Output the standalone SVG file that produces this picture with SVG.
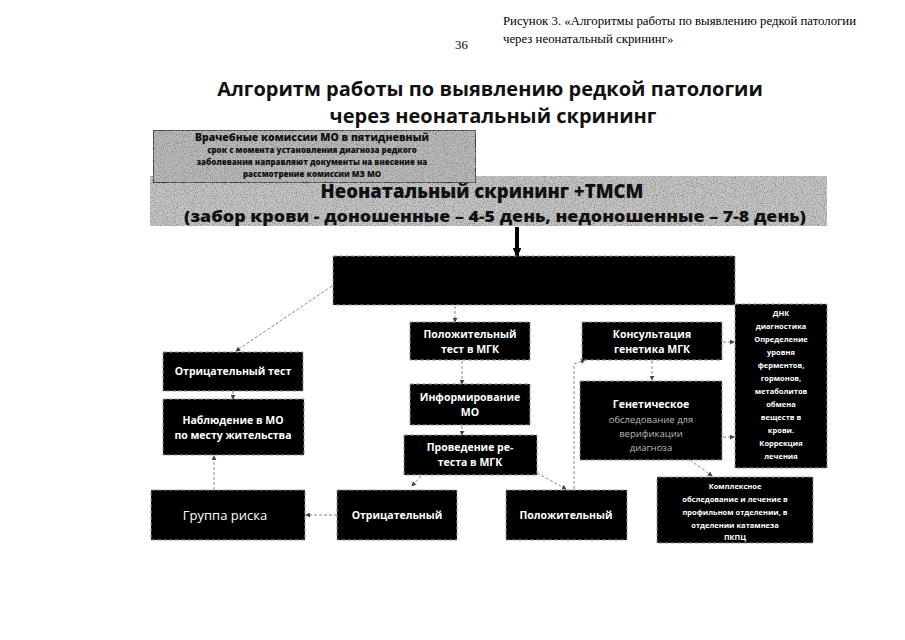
<svg xmlns="http://www.w3.org/2000/svg" width="905" height="640" viewBox="0 0 905 640">
<style>
.cap{font-family:"Liberation Serif",serif;font-size:12.8px;fill:#000}
.title{font-family:"Open Sans","Liberation Sans",sans-serif;font-weight:bold;font-size:20px;fill:#111;text-anchor:middle}
.box{fill:#000;stroke:#999;stroke-width:1;stroke-dasharray:4 2}
.t{font-family:"Open Sans","Liberation Sans",sans-serif;font-weight:bold;font-size:10.5px;fill:#fff;text-anchor:middle}
.tn{font-family:"Open Sans","Liberation Sans",sans-serif;font-weight:normal;font-size:13px;fill:#fff;text-anchor:middle}
.ts{font-family:"Open Sans","Liberation Sans",sans-serif;font-weight:bold;font-size:7.5px;fill:#fff;text-anchor:middle}
.tl{font-family:"Open Sans","Liberation Sans",sans-serif;font-size:9.5px;fill:#bbb;text-anchor:middle}
.gt{font-family:"Open Sans","Liberation Sans",sans-serif;font-weight:800;fill:#111;text-anchor:middle}
.con{fill:none;stroke:#888;stroke-width:1;stroke-dasharray:3 2}
</style>
<defs>
<marker id="ah" viewBox="0 0 6 6" refX="5" refY="3" markerWidth="5" markerHeight="5" orient="auto"><path d="M0,0 L6,3 L0,6 z" fill="#444"/></marker>
<marker id="big" viewBox="0 0 10 10" refX="9" refY="5" markerWidth="2.2" markerHeight="2.2" orient="auto"><path d="M0,0 L10,5 L0,10 z" fill="#000"/></marker>
<filter id="grain" x="0" y="0" width="100%" height="100%">
<feTurbulence type="fractalNoise" baseFrequency="0.9" numOctaves="2" seed="3" result="t"/>
<feColorMatrix in="t" type="matrix" values="0 0 0 0 0.25 0 0 0 0 0.25 0 0 0 0 0.25 2.4 0 0 0 -0.95" result="dots"/>
<feComposite in="dots" in2="SourceGraphic" operator="in" result="d2"/>
<feMerge><feMergeNode in="SourceGraphic"/><feMergeNode in="d2"/></feMerge>
</filter>
</defs>
<rect width="905" height="640" fill="#fff"/>

<g id="caption">
<text class="cap" x="503" y="25">Рисунок 3. «Алгоритмы работы по выявлению редкой патологии</text>
<text class="cap" x="503" y="43">через неонатальный скрининг»</text>
<text class="cap" x="455" y="49">36</text>
</g>

<g id="title">
<text class="title" x="490" y="96">Алгоритм работы по выявлению редкой патологии</text>
<text class="title" x="493" y="123">через неонатальный скрининг</text>
</g>

<g id="screening">
<rect x="150" y="176" width="677" height="50" fill="#c8c8c8" filter="url(#grain)"/>
<text class="gt" x="482" y="198" font-size="18.5">Неонатальный скрининг +ТМСМ</text>
<text class="gt" x="495" y="222" font-size="16.5" textLength="622" lengthAdjust="spacingAndGlyphs">(забор крови - доношенные – 4-5 день, недоношенные – 7-8 день)</text>
</g>

<g id="commission">
<rect x="153" y="130" width="323" height="53" fill="#bcbcbc" stroke="#111" stroke-width="1.5" filter="url(#grain)"/>
<text class="gt" x="312" y="141" font-size="10.5">Врачебные комиссии МО в пятидневный</text>
<text class="gt" x="312" y="153" font-size="8">срок с момента установления диагноза редкого</text>
<text class="gt" x="312" y="165" font-size="8">заболевания направляют документы на внесение на</text>
<text class="gt" x="312" y="177" font-size="8">рассмотрение комиссии МЗ МО</text>
</g>

<g id="connectors">
<line x1="517" y1="227" x2="517" y2="256" stroke="#000" stroke-width="4" marker-end="url(#big)"/>
<line class="con" x1="332" y1="286" x2="236" y2="351" marker-end="url(#ah)"/>
<line class="con" x1="233" y1="391" x2="233" y2="399" marker-end="url(#ah)"/>
<line class="con" x1="214" y1="490" x2="214" y2="456" marker-end="url(#ah)"/>
<line class="con" x1="455" y1="306" x2="455" y2="322" marker-end="url(#ah)"/>
<line class="con" x1="462" y1="361" x2="462" y2="384" marker-end="url(#ah)"/>
<line class="con" x1="462" y1="426" x2="462" y2="435" marker-end="url(#ah)"/>
<line class="con" x1="421" y1="476" x2="412" y2="486" marker-end="url(#ah)"/>
<line class="con" x1="537" y1="473" x2="566" y2="489" marker-end="url(#ah)"/>
<line class="con" x1="337" y1="515" x2="306" y2="515" marker-end="url(#ah)"/>
<line class="con" x1="574" y1="489" x2="574" y2="364"/>
<line class="con" x1="574" y1="364" x2="585" y2="360" marker-end="url(#ah)"/>
<line class="con" x1="652" y1="361" x2="652" y2="380" marker-end="url(#ah)"/>
<line class="con" x1="723" y1="342" x2="734" y2="342" marker-end="url(#ah)"/>
<line class="con" x1="723" y1="437" x2="734" y2="437" marker-end="url(#ah)"/>
<line class="con" x1="690" y1="460" x2="712" y2="476" marker-end="url(#ah)"/>
</g>

<g id="main"><rect class="box" x="333" y="256" width="402" height="49"/></g>

<g id="neg-test"><rect class="box" x="163" y="352" width="140" height="39"/>
<text class="t" x="233" y="375">Отрицательный тест</text></g>

<g id="observe"><rect class="box" x="163" y="399" width="141" height="56"/>
<text class="t" x="233" y="424">Наблюдение в МО</text>
<text class="t" x="233" y="439">по месту жительства</text></g>

<g id="risk"><rect class="box" x="151" y="490" width="154" height="50"/>
<text class="tn" x="225" y="520">Группа риска</text></g>

<g id="negative"><rect class="box" x="337" y="490" width="120" height="50"/>
<text class="t" x="397" y="519">Отрицательный</text></g>

<g id="positive"><rect class="box" x="506" y="490" width="121" height="50"/>
<text class="t" x="566" y="519">Положительный</text></g>

<g id="pos-test"><rect class="box" x="410" y="322" width="120" height="38"/>
<text class="t" x="470" y="338">Положительный</text>
<text class="t" x="470" y="353">тест в МГК</text></g>

<g id="inform"><rect class="box" x="410" y="384" width="120" height="41"/>
<text class="t" x="470" y="401">Информирование</text>
<text class="t" x="470" y="416">МО</text></g>

<g id="retest"><rect class="box" x="404" y="435" width="133" height="40"/>
<text class="t" x="470" y="451">Проведение ре-</text>
<text class="t" x="470" y="466">теста в МГК</text></g>

<g id="consult"><rect class="box" x="582" y="322" width="140" height="38"/>
<text class="t" x="652" y="338">Консультация</text>
<text class="t" x="652" y="353">генетика МГК</text></g>

<g id="genetic"><rect class="box" x="580" y="381" width="142" height="79"/>
<text class="t" x="651" y="408">Генетическое</text>
<text class="tl" x="651" y="423">обследование для</text>
<text class="tl" x="651" y="437">верификации</text>
<text class="tl" x="651" y="451">диагноза</text></g>

<g id="dna"><rect class="box" x="735" y="304" width="92" height="164"/>
<text class="ts" x="781" y="316">ДНК</text>
<text class="ts" x="781" y="329">диагностика</text>
<text class="ts" x="781" y="342">Определение</text>
<text class="ts" x="781" y="355">уровня</text>
<text class="ts" x="781" y="368">ферментов,</text>
<text class="ts" x="781" y="381">гормонов,</text>
<text class="ts" x="781" y="394">метаболитов</text>
<text class="ts" x="781" y="407">обмена</text>
<text class="ts" x="781" y="420">веществ в</text>
<text class="ts" x="781" y="433">крови.</text>
<text class="ts" x="781" y="446">Коррекция</text>
<text class="ts" x="781" y="459">лечения</text></g>

<g id="complex"><rect class="box" x="657" y="477" width="156" height="66"/>
<text class="ts" x="735" y="489">Комплексное</text>
<text class="ts" x="735" y="502">обследование и лечение в</text>
<text class="ts" x="735" y="515">профильном отделении, в</text>
<text class="ts" x="735" y="528">отделении катамнеза</text>
<text class="ts" x="735" y="540">ПКПЦ</text></g>
</svg>
